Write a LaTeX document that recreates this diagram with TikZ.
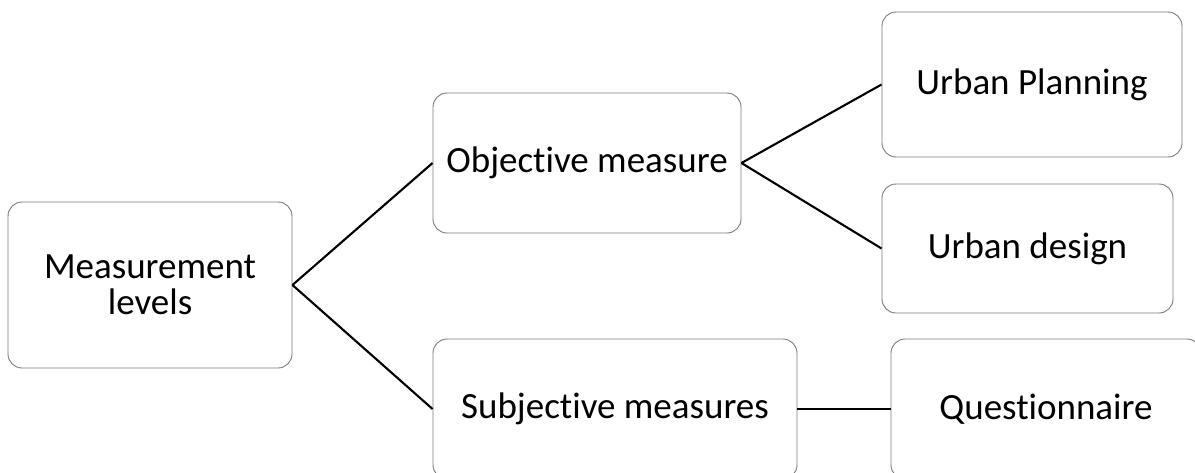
\documentclass[tikz,border=0pt]{standalone}
\usepackage{fontspec}
\setmainfont{Carlito}[RawFeature={-liga}]
\begin{document}
\begin{tikzpicture}[x=1pt,y=-1pt,
  box/.style={draw=black!52, line width=0.9pt, rounded corners=14pt, fill=white,
    inner sep=0pt, align=center, font=\fontsize{37}{36}\selectfont},
  link/.style={draw=black, line width=2.1pt}]
  \useasboundingbox (0,0) rectangle (1195,472);
  \clip (0,0) rectangle (1195,472);
  \fill[white] (0,0) rectangle (1195,472);

  % tree levels
  \node[box, minimum width=284pt, minimum height=166pt] (ml) at (150,285) {Measurement\\levels};
  \node[box, minimum width=308pt, minimum height=140pt] (om) at (587,163) {Objective measure};
  \node[box, minimum width=364pt, minimum height=140pt] (sm) at (615,409) {Subjective measures};
  \node[box, minimum width=300pt, minimum height=145pt] (up) at (1032,84.5) {Urban Planning};
  \node[box, minimum width=291pt, minimum height=129pt] (ud) at (1027.5,248.5) {Urban design};
  \node[box, minimum width=310pt, minimum height=140pt] (qn) at (1046,409) {Questionnaire};

  % connectors
  \draw[link] (ml.east) -- (om.west);
  \draw[link] (ml.east) -- (sm.west);
  \draw[link] (om.east) -- (up.west);
  \draw[link] (om.east) -- (ud.west);
  \draw[link] (sm.east) -- (qn.west);
\end{tikzpicture}
\end{document}
